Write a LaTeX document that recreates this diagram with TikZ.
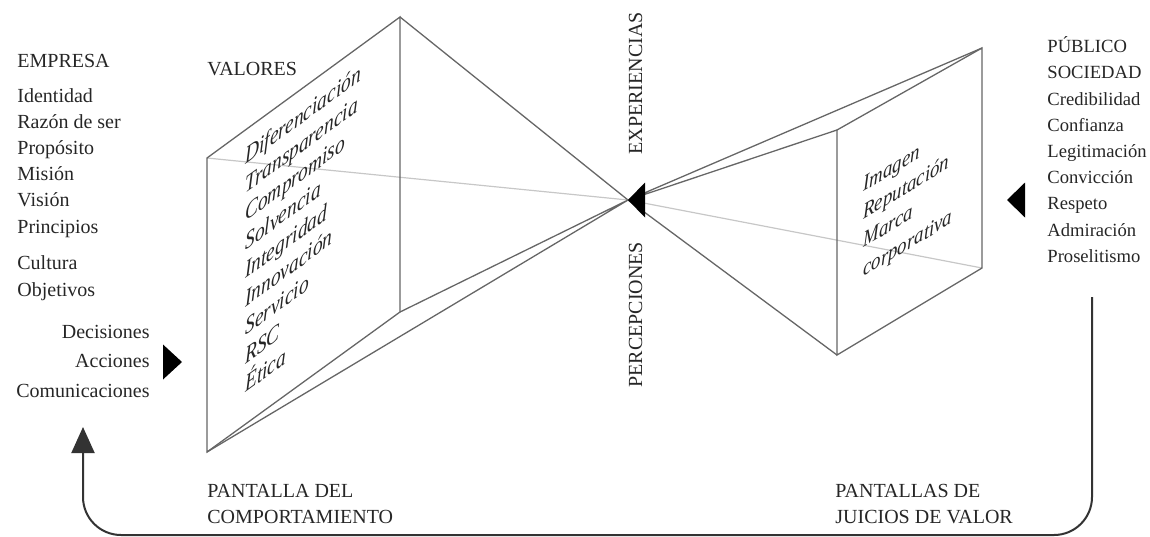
\documentclass[tikz,border=0pt]{standalone}
\usepackage{fontspec}
\setmainfont{Liberation Serif}
\usetikzlibrary{positioning, arrows.meta}

\begin{document}
\begin{tikzpicture}[
    x=0.5pt, y=-0.5pt,
    txt/.style={font=\fontsize{10}{12.7}\selectfont, text=black!85, inner sep=0pt, text height=9.5pt, text depth=3.2pt, anchor=base west},
    txtr/.style={txt, font=\fontsize{9.3}{12.7}\selectfont},
    facel/.style={font=\fontsize{12}{14}\selectfont\itshape, text=black!85, inner sep=0pt, anchor=base west, rotate=36, xslant=0.7265, yscale=0.809},
    facer/.style={font=\fontsize{11}{13}\selectfont\itshape, text=black!85, inner sep=0pt, anchor=base west, rotate=31, xslant=0.601, yscale=0.857},
    rib/.style={draw=black!60, line width=0.65pt},
    backline/.style={draw=black!22, line width=0.6pt},
    feedback/.style={draw=black!80, line width=1pt, rounded corners=19pt, -{Triangle[width=11.5pt, length=13pt]}}
]
    \useasboundingbox (0,0) rectangle (1150,536);

    % Prisms
    \coordinate (focus) at (628,200);
    \coordinate (l1) at (207,158);
    \coordinate (l2) at (400,17);
    \coordinate (l3) at (400,312);
    \coordinate (l4) at (207,452);
    \coordinate (r1) at (837,130);
    \coordinate (r2) at (982,48);
    \coordinate (r3) at (982,268);
    \coordinate (r4) at (837,355);

    \draw[backline] (l1) -- (focus) -- (r3);
    \draw[rib] (l1) -- (l2) -- (l3) -- (l4) -- cycle;
    \draw[rib] (l2) -- (focus) (l3) -- (focus) (l4) -- (focus);
    \draw[rib] (r1) -- (r2) -- (r3) -- (r4) -- cycle;
    \draw[rib] (r1) -- (focus) (r2) -- (focus) (r4) -- (focus);
    \fill (focus) -- ++(17,-17.5) -- ++(0,35) -- cycle;

    \node[txt, rotate=90] (exper) at (642,155) {EXPERIENCIAS};
    \node[txt, rotate=90] (percep) at (642,388) {PERCEPCIONES};

    % Empresa
    \node[txt] (empresa) at (17,67) {EMPRESA};
    \node[txt] (identidad) at (17,102) {Identidad};
    \node[txt, anchor=north west] (razon) at (identidad.south west) {Razón de ser};
    \node[txt, anchor=north west] (proposito) at (razon.south west) {Propósito};
    \node[txt, anchor=north west] (mision) at (proposito.south west) {Misión};
    \node[txt, anchor=north west] (vision) at (mision.south west) {Visión};
    \node[txt, anchor=north west] (principios) at (vision.south west) {Principios};
    \node[txt, below=5.3pt of principios.south west, anchor=north west] (cultura) {Cultura};
    \node[txt, anchor=north west] (objetivos) at (cultura.south west) {Objetivos};

    \node[txt, anchor=base east] (decisiones) at (150,338) {Decisiones};
    \node[txt, below=1.8pt of decisiones.south east, anchor=north east] (acciones) {Acciones};
    \node[txt, below=1.8pt of acciones.south east, anchor=north east] (comunic) {Comunicaciones};
    \coordinate (actmark) at (182,362);
    \fill (actmark) -- ++(-19,-17.5) -- ++(0,35) -- cycle;

    % Valores
    \node[txt] (valores) at (207,75) {VALORES};
    \node[facel] (v1) at (245,165) {Diferenciación};
    \node[facel] (v2) at (245,193.5) {Transparencia};
    \node[facel] (v3) at (245,222) {Compromiso};
    \node[facel] (v4) at (245,250.5) {Solvencia};
    \node[facel] (v5) at (245,279) {Integridad};
    \node[facel] (v6) at (245,307.5) {Innovación};
    \node[facel] (v7) at (245,336) {Servicio};
    \node[facel] (v8) at (245,364.5) {RSC};
    \node[facel] (v9) at (245,393) {Ética};

    \node[txt] (pantalla) at (207,497) {PANTALLA DEL};
    \node[txt, anchor=north west] (comport) at (pantalla.south west) {COMPORTAMIENTO};

    % Publico
    \node[facer] (imagen) at (863,192) {Imagen};
    \node[facer] (reputacion) at (863,220) {Reputación};
    \node[facer] (marca) at (863,248) {Marca};
    \node[facer] (corporativa) at (863,277) {corporativa};

    \node[txtr] (publico) at (1047,52) {PÚBLICO};
    \node[txtr, anchor=north west] (sociedad) at (publico.south west) {SOCIEDAD};
    \node[txtr] (credib) at (1047,105) {Credibilidad};
    \node[txtr, anchor=north west] (confianza) at (credib.south west) {Confianza};
    \node[txtr, anchor=north west] (legit) at (confianza.south west) {Legitimación};
    \node[txtr, anchor=north west] (conviccion) at (legit.south west) {Convicción};
    \node[txtr, anchor=north west] (respeto) at (conviccion.south west) {Respeto};
    \node[txtr, anchor=north west] (admiracion) at (respeto.south west) {Admiración};
    \node[txtr, anchor=north west] (proselit) at (admiracion.south west) {Proselitismo};
    \coordinate (convmark) at (1007,200);
    \fill (convmark) -- ++(18,-17.5) -- ++(0,35) -- cycle;

    \node[txt] (pantallas) at (835,497) {PANTALLAS DE};
    \node[txt, anchor=north west] (juicios) at (pantallas.south west) {JUICIOS DE VALOR};

    % Feedback loop
    \coordinate (loopstart) at (1092,297);
    \coordinate (loopend) at (83,427);
    \draw[feedback] (loopstart) -- ++(0,238) -| (loopend);
\end{tikzpicture}
\end{document}
